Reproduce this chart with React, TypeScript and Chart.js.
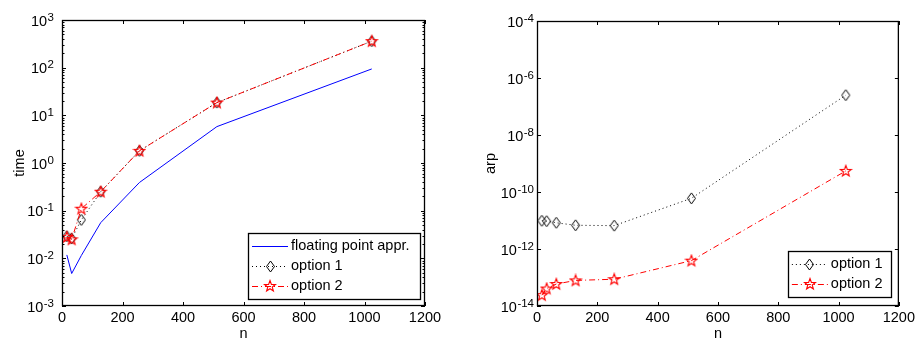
import React, { useEffect, useRef } from 'react';
import { Chart, registerables } from 'chart.js';

Chart.register(...registerables);

// ---------------- data ----------------
const N_VALUES = [16, 32, 64, 128, 256, 512, 1024];
const X_TICKS = [0, 200, 400, 600, 800, 1000, 1200];

const TIME_FLOAT = [0.0118, 0.0048, 0.0115, 0.056, 0.39, 5.8, 94];
const TIME_OPTION1 = [0.029, 0.026, 0.064, 0.25, 1.8, 18.5, 360];
const TIME_OPTION2 = [0.028, 0.025, 0.11, 0.25, 1.8, 18.5, 360];

const ARP_OPTION1 = [9.8e-12, 9.5e-12, 8.3e-12, 6.8e-12, 6.6e-12, 6.0e-11, 2.5e-7];
const ARP_OPTION2 = [2.4e-14, 4.1e-14, 5.9e-14, 7.9e-14, 8.7e-14, 3.9e-13, 5.5e-10];

const TIME_EXPONENTS = [-3, -2, -1, 0, 1, 2, 3];
const ARP_EXPONENTS = [-14, -12, -10, -8, -6, -4];

const LEGEND_TIME = ['floating point appr.', 'option 1', 'option 2'];
const LEGEND_ARP = ['option 1', 'option 2'];

const FONT = '"Liberation Sans", Arial, Helvetica, sans-serif';

// ---------------- markers ----------------
function makeDiamond(): HTMLCanvasElement {
  const c = document.createElement('canvas');
  c.width = 11;
  c.height = 13;
  const g = c.getContext('2d')!;
  g.strokeStyle = '#000';
  g.lineWidth = 1;
  g.beginPath();
  g.moveTo(5.5, 1);
  g.lineTo(9.5, 6.5);
  g.lineTo(5.5, 12);
  g.lineTo(1.5, 6.5);
  g.closePath();
  g.stroke();
  return c;
}

function makeStar(): HTMLCanvasElement {
  const c = document.createElement('canvas');
  c.width = 14;
  c.height = 14;
  const g = c.getContext('2d')!;
  g.strokeStyle = '#ff0000';
  g.lineWidth = 1.1;
  g.beginPath();
  const cx = 7, cy = 7.3, ro = 5.8, ri = 2.4;
  for (let i = 0; i < 10; i++) {
    const r = i % 2 === 0 ? ro : ri;
    const a = -Math.PI / 2 + (i * Math.PI) / 5;
    const px = cx + r * Math.cos(a);
    const py = cy + r * Math.sin(a);
    if (i === 0) g.moveTo(px, py);
    else g.lineTo(px, py);
  }
  g.closePath();
  g.stroke();
  return c;
}

function drawSample(ctx: CanvasRenderingContext2D, kind: string, x0: number, x1: number, y: number, diamond: HTMLCanvasElement, star: HTMLCanvasElement) {
  ctx.save();
  ctx.lineWidth = 1;
  if (kind === 'float') {
    ctx.strokeStyle = '#0000ff';
    ctx.setLineDash([]);
  } else if (kind === 'opt1') {
    ctx.strokeStyle = '#000';
    ctx.setLineDash([1, 3]);
  } else {
    ctx.strokeStyle = '#ff0000';
    ctx.setLineDash([6, 3, 1, 3]);
  }
  ctx.beginPath();
  ctx.moveTo(x0, y + 0.5);
  ctx.lineTo(x1, y + 0.5);
  ctx.stroke();
  ctx.setLineDash([]);
  const mx = (x0 + x1) / 2;
  if (kind === 'opt1') ctx.drawImage(diamond, Math.round(mx - diamond.width / 2), Math.round(y - diamond.height / 2));
  if (kind === 'opt2') ctx.drawImage(star, Math.round(mx - star.width / 2), Math.round(y - star.height / 2));
  ctx.restore();
}

function makeFramePlugin(opts: {
  exponents: number[];
  minor: boolean;
  labelGap: number;
  legend: { labels: string[]; kinds: string[]; right: number; bottom: number; width: number; rowH: number };
  diamond: HTMLCanvasElement;
  star: HTMLCanvasElement;
}) {
  return {
    id: 'frameAndExtras',
    afterDraw(chart: any) {
      const { ctx, chartArea: a, scales } = chart;
      const xs = scales.x;
      const ys = scales.y;
      ctx.save();
      ctx.strokeStyle = '#000';
      ctx.lineWidth = 1;
      ctx.setLineDash([]);
      ctx.beginPath();
      for (const v of X_TICKS) {
        const px = Math.round(xs.getPixelForValue(v)) + 0.5;
        ctx.moveTo(px, a.bottom);
        ctx.lineTo(px, a.bottom - 4);
        ctx.moveTo(px, a.top);
        ctx.lineTo(px, a.top + 4);
      }
      for (const e of opts.exponents) {
        const py = Math.round(ys.getPixelForValue(Math.pow(10, e))) + 0.5;
        ctx.moveTo(a.left, py);
        ctx.lineTo(a.left + 4, py);
        ctx.moveTo(a.right, py);
        ctx.lineTo(a.right - 4, py);
      }
      if (opts.minor) {
        const lo = opts.exponents[0];
        const hi = opts.exponents[opts.exponents.length - 1];
        for (let e = lo; e < hi; e++) {
          for (let k = 2; k <= 9; k++) {
            const py = Math.round(ys.getPixelForValue(k * Math.pow(10, e))) + 0.5;
            ctx.moveTo(a.left, py);
            ctx.lineTo(a.left + 2.5, py);
            ctx.moveTo(a.right, py);
            ctx.lineTo(a.right - 2.5, py);
          }
        }
      }
      ctx.stroke();
      ctx.lineWidth = 1.3;
      ctx.strokeRect(a.left + 0.5, a.top + 0.5, a.right - a.left - 1, a.bottom - a.top - 1);

      // y tick labels with superscript exponents
      ctx.fillStyle = '#000';
      for (const e of opts.exponents) {
        const py = ys.getPixelForValue(Math.pow(10, e));
        const xr = a.left - opts.labelGap;
        const expText = String(e);
        ctx.font = `11.5px ${FONT}`;
        const ew = ctx.measureText(expText).width;
        ctx.textAlign = 'right';
        ctx.textBaseline = 'alphabetic';
        ctx.fillText(expText, xr, py + 0.5);
        ctx.font = `14.5px ${FONT}`;
        ctx.textBaseline = 'middle';
        ctx.fillText('10', xr - ew - 0.5, py + 1.5);
      }

      // legend
      const L = opts.legend;
      const h = L.labels.length * L.rowH + 6;
      const bx = a.right - L.right - L.width;
      const by = a.bottom - L.bottom - h;
      ctx.fillStyle = '#fff';
      ctx.fillRect(bx, by, L.width, h);
      ctx.strokeStyle = '#000';
      ctx.lineWidth = 1.3;
      ctx.strokeRect(Math.round(bx) + 0.5, Math.round(by) + 0.5, L.width, h);
      ctx.font = `14.5px ${FONT}`;
      ctx.textAlign = 'left';
      ctx.textBaseline = 'middle';
      L.labels.forEach((lab, i) => {
        const ry = Math.round(by + 3 + L.rowH * (i + 0.5));
        drawSample(ctx, L.kinds[i], bx + 4, bx + 40, ry, opts.diamond, opts.star);
        ctx.fillStyle = '#000';
        ctx.fillText(lab, bx + 43, ry);
      });
      ctx.restore();
    },
  };
}

function datasetFor(kind: string, data: number[], diamond: HTMLCanvasElement, star: HTMLCanvasElement, label: string) {
  const pts = N_VALUES.map((n, i) => ({ x: n, y: data[i] }));
  if (kind === 'float') {
    return { label, data: pts, borderColor: '#0000ff', borderWidth: 1, pointRadius: 0, showLine: true, order: 2 };
  }
  if (kind === 'opt1') {
    return {
      label, data: pts, borderColor: '#000', borderWidth: 1, borderDash: [1, 3],
      pointStyle: diamond, pointRadius: 5, showLine: true, order: 1,
    };
  }
  return {
    label, data: pts, borderColor: '#ff0000', borderWidth: 1, borderDash: [6, 3, 1, 3],
    pointStyle: star, pointRadius: 5, showLine: true, order: 0,
  };
}

function makeConfig(panel: 'time' | 'arp', diamond: HTMLCanvasElement, star: HTMLCanvasElement): any {
  const isTime = panel === 'time';
  const exps = isTime ? TIME_EXPONENTS : ARP_EXPONENTS;
  const datasets = isTime
    ? [
        datasetFor('float', TIME_FLOAT, diamond, star, LEGEND_TIME[0]),
        datasetFor('opt1', TIME_OPTION1, diamond, star, LEGEND_TIME[1]),
        datasetFor('opt2', TIME_OPTION2, diamond, star, LEGEND_TIME[2]),
      ]
    : [
        datasetFor('opt1', ARP_OPTION1, diamond, star, LEGEND_ARP[0]),
        datasetFor('opt2', ARP_OPTION2, diamond, star, LEGEND_ARP[1]),
      ];
  const yWidth = isTime ? 62 : 78;
  return {
    type: 'scatter',
    data: { datasets },
    options: {
      animation: false,
      responsive: false,
      events: [],
      layout: { padding: { left: 0, right: isTime ? 34 : 18, top: isTime ? 20 : 21, bottom: 0 } },
      plugins: { legend: { display: false }, tooltip: { enabled: false } },
      elements: { line: { tension: 0 } },
      scales: {
        x: {
          type: 'linear',
          min: 0,
          max: 1200,
          afterBuildTicks: (s: any) => {
            s.ticks = X_TICKS.map((v) => ({ value: v }));
          },
          ticks: {
            font: { family: FONT, size: 14.5 },
            color: '#000',
            padding: 3,
            autoSkip: false,
            maxRotation: 0,
            callback: (v: any) => String(v),
          },
          grid: { display: false, drawTicks: false },
          border: { display: false },
          title: { display: true, text: 'n', color: '#000', font: { family: FONT, size: 14.5, lineHeight: 1 }, padding: { top: 0, bottom: 0 } },
          afterFit: (s: any) => {
            s.height = 35;
          },
        },
        y: {
          type: 'logarithmic',
          min: Math.pow(10, exps[0]),
          max: Math.pow(10, exps[exps.length - 1]),
          afterBuildTicks: (s: any) => {
            s.ticks = exps.map((e) => ({ value: Math.pow(10, e) }));
          },
          ticks: { display: false },
          grid: { display: false, drawTicks: false },
          border: { display: false },
          title: {
            display: true,
            text: panel,
            color: '#000',
            font: { family: FONT, size: 14.5, lineHeight: 1 },
            padding: { top: isTime ? 13 : 25, bottom: 0 },
          },
          afterFit: (s: any) => {
            s.width = yWidth;
          },
        },
      },
    },
    plugins: [
      makeFramePlugin({
        exponents: exps,
        minor: isTime,
        labelGap: isTime ? 8 : 3,
        legend: isTime
          ? { labels: LEGEND_TIME, kinds: ['float', 'opt1', 'opt2'], right: 5, bottom: 7, width: 172, rowH: 20 }
          : { labels: LEGEND_ARP, kinds: ['opt1', 'opt2'], right: 8, bottom: 9, width: 103, rowH: 20 },
        diamond,
        star,
      }),
    ],
  };
}

function Panel({ panel }: { panel: 'time' | 'arp' }) {
  const ref = useRef<HTMLCanvasElement>(null);
  useEffect(() => {
    if (!ref.current) return;
    const diamond = makeDiamond();
    const star = makeStar();
    const chart = new Chart(ref.current, makeConfig(panel, diamond, star));
    return () => chart.destroy();
  }, [panel]);
  return <canvas ref={ref} width={459} height={341} style={{ display: 'block', width: 459, height: 341 }} />;
}

export default function App() {
  return (
    <div style={{ position: 'absolute', left: 0, top: 0, width: 918, height: 341, background: '#fff', display: 'flex' }}>
      <Panel panel="time" />
      <Panel panel="arp" />
    </div>
  );
}
